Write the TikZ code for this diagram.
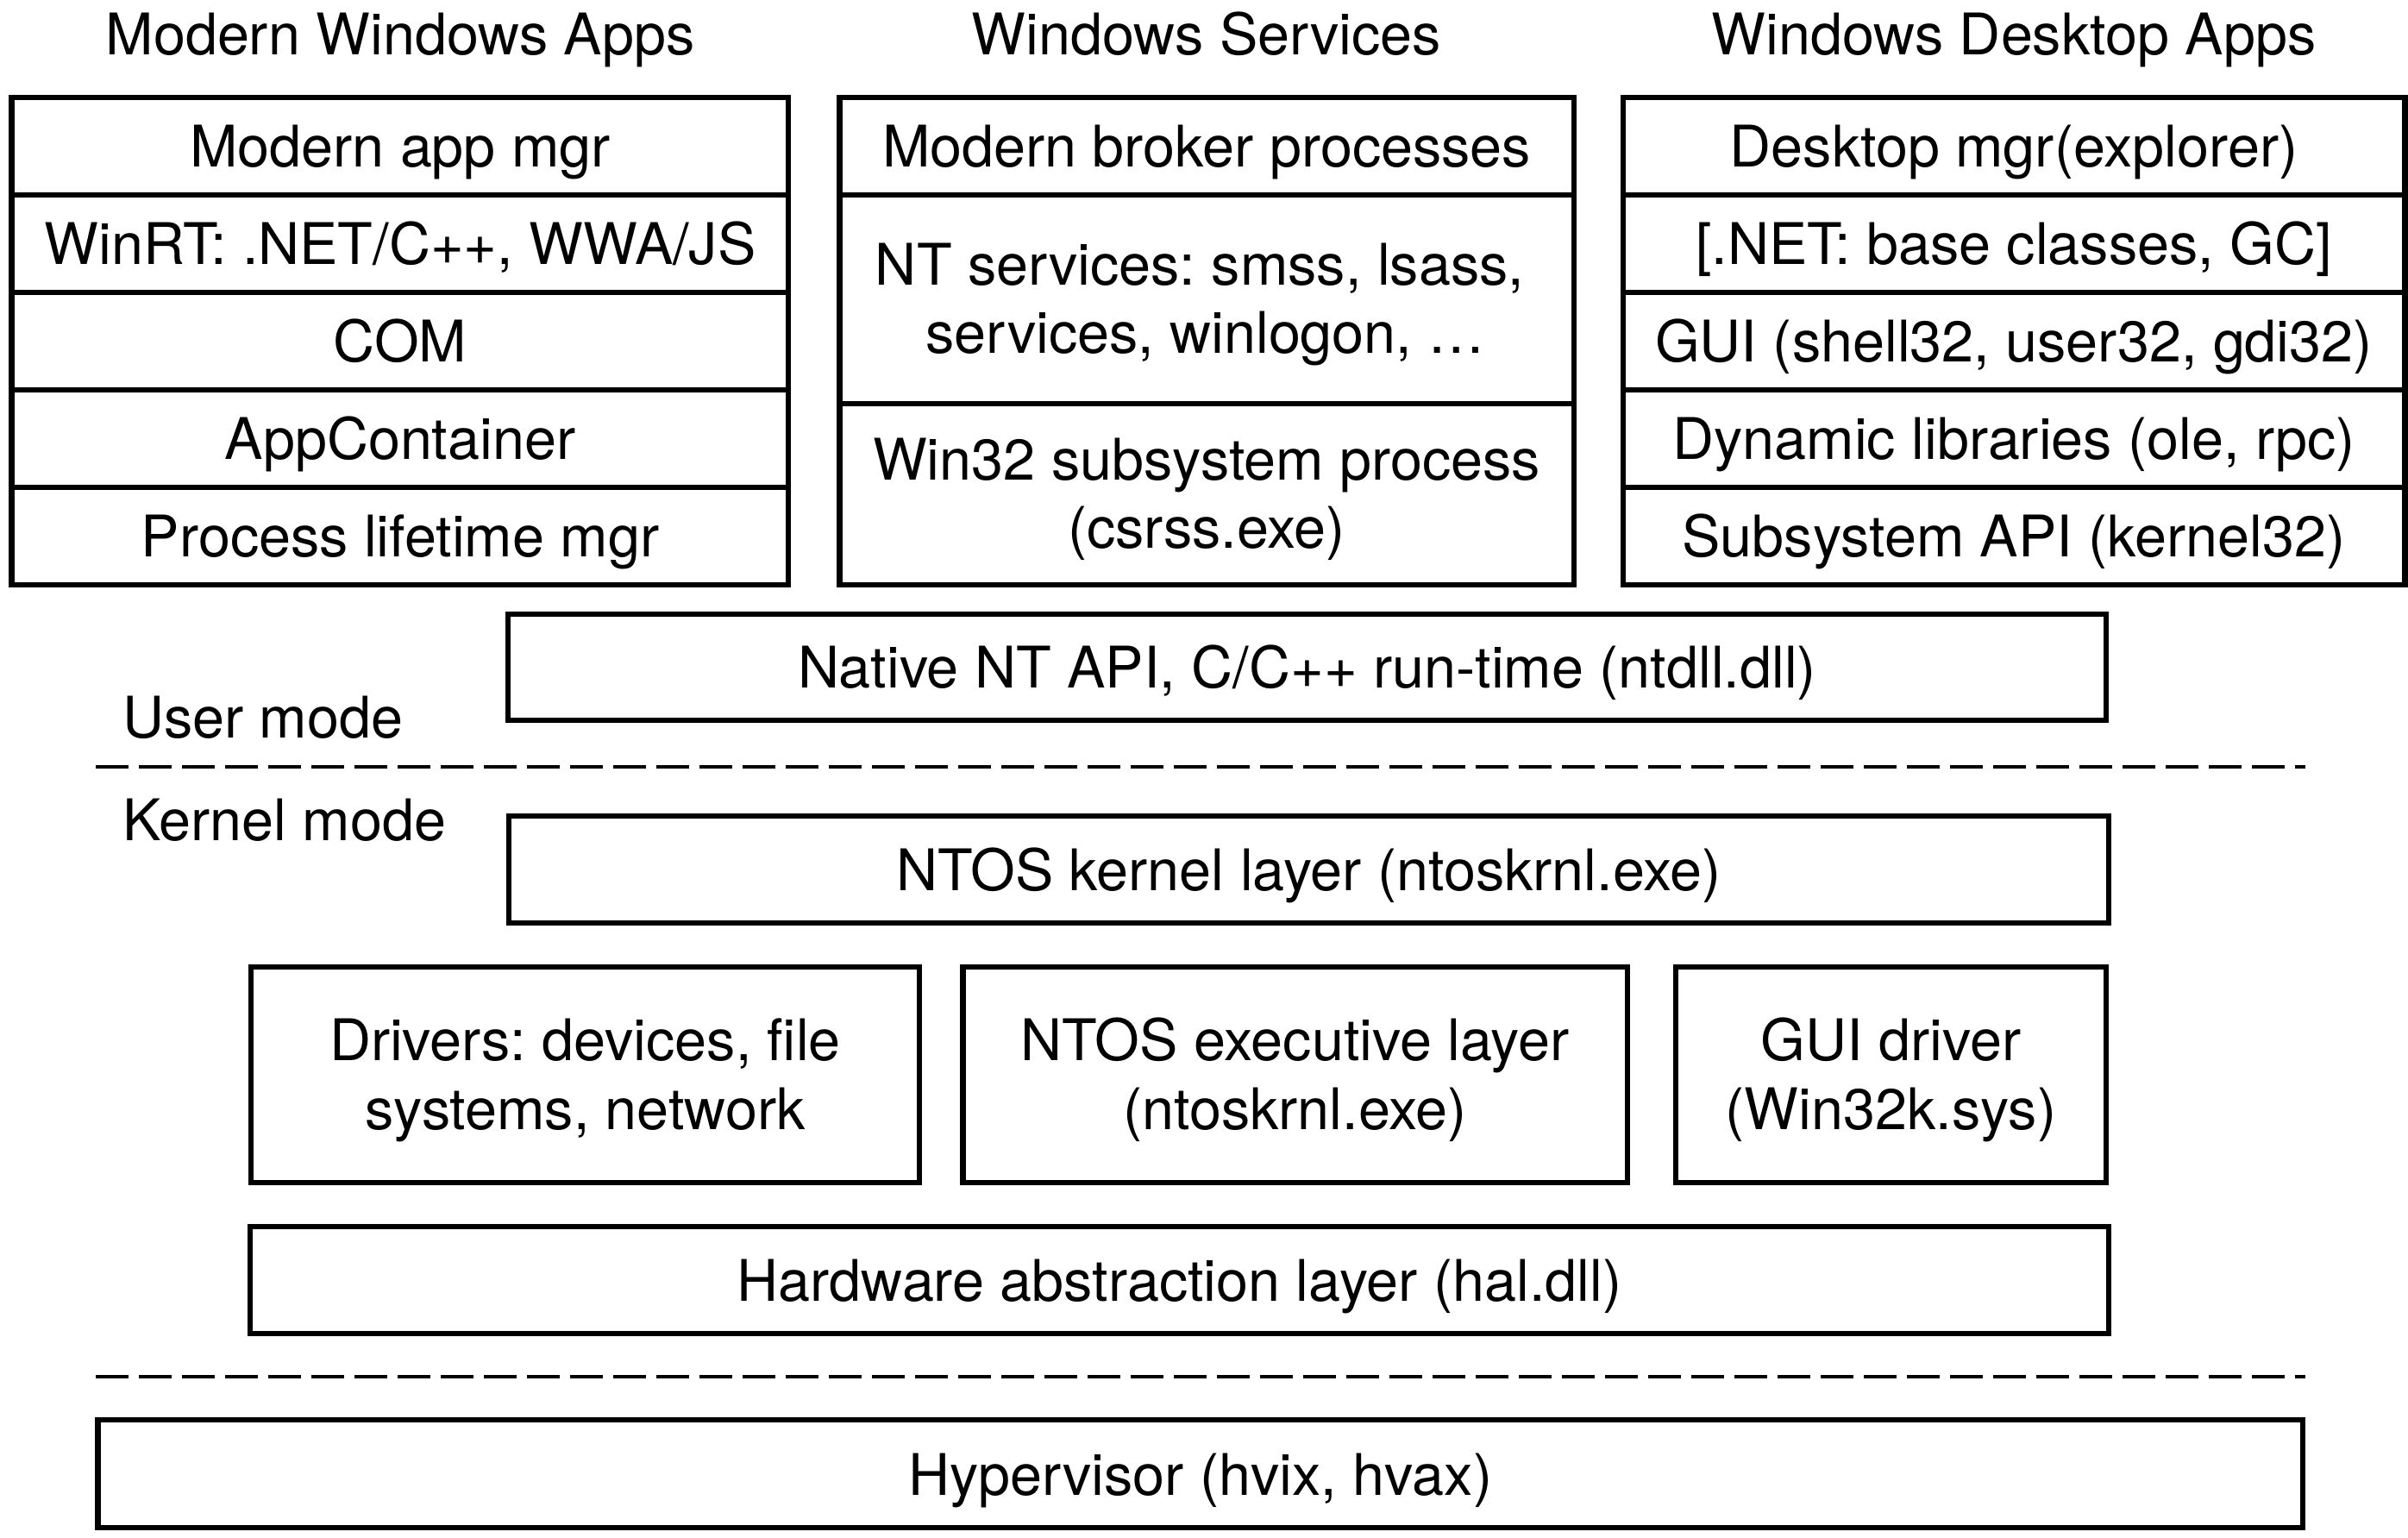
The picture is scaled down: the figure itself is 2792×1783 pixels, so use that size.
\documentclass[tikz,border=0pt]{standalone}
\usepackage{fontspec}
\setmainfont{TeX Gyre Heros}
\usetikzlibrary{fit}
\frenchspacing
\begin{document}
\frenchspacing
\begin{tikzpicture}[x=0.25pt,y=-0.25pt,
  txt/.style={font=\fontsize{16.625pt}{19.75pt}\selectfont\frenchspacing, inner sep=0pt, outer sep=0pt},
  box/.style={draw, line width=1.55pt, inner sep=0pt},
  ln/.style={txt, anchor=base},
  sepline/.style={line width=1.2pt, dash pattern=on 9.5pt off 3pt}]
\useasboundingbox (0,0) rectangle (2792,1783);

% headers
\node[ln] (h1) at (464,64) {Modern Windows Apps};
\node[ln] (h2) at (1399,64) {Windows Services};
\node[ln] (h3) at (2335,64) {Windows Desktop Apps};

% left stack
\node[box, fit={(13.5,113) (914,226)}] (l1) {};
\node[box, fit={(13.5,226) (914,339)}] (l2) {};
\node[box, fit={(13.5,339) (914,452)}] (l3) {};
\node[box, fit={(13.5,452) (914,565)}] (l4) {};
\node[box, fit={(13.5,565) (914,678)}] (l5) {};
\node[ln] (l1t) at (464,194) {Modern app mgr};
\node[ln] (l2t) at (464,307) {WinRT: .NET/C++, WWA/JS};
\node[ln] (l3t) at (464,420) {COM};
\node[ln] (l4t) at (464,533) {AppContainer};
\node[ln] (l5t) at (464,646) {Process lifetime mgr};

% middle stack
\node[box, fit={(973.5,113) (1825,226)}] (m1) {};
\node[ln] (m1t) at (1399,194) {Modern broker processes};
\node[box, fit={(973.5,226) (1825,468)}] (m2) {};
\node[ln] (m2a) at (1391,331) {NT services: smss, lsass,};
\node[ln] (m2b) at (1398,410) {services, winlogon, …};
\node[box, fit={(973.5,468) (1825,678)}] (m3) {};
\node[ln] (m3a) at (1399,556.5) {Win32 subsystem process};
\node[ln] (m3b) at (1399,635.5) {(csrss.exe)};

% right stack
\node[box, fit={(1882,113) (2788.5,226)}] (r1) {};
\node[box, fit={(1882,226) (2788.5,339)}] (r2) {};
\node[box, fit={(1882,339) (2788.5,452)}] (r3) {};
\node[box, fit={(1882,452) (2788.5,565)}] (r4) {};
\node[box, fit={(1882,565) (2788.5,678)}] (r5) {};
\node[ln] (r1t) at (2335,194) {Desktop mgr(explorer)};
\node[ln] (r2t) at (2335,307) {[.NET: base classes, GC]};
\node[ln] (r3t) at (2335,420) {GUI (shell32, user32, gdi32)};
\node[ln] (r4t) at (2335,533) {Dynamic libraries (ole, rpc)};
\node[ln] (r5t) at (2335,646) {Subsystem API (kernel32)};

% native API
\node[box, fit={(589,712) (2442,835)}] (ntapi) {};
\node[ln] (ntapit) at (1515.5,798) {Native NT API, C/C++ run-time (ntdll.dll)};

% mode labels and separator
\node[txt, anchor=base west] (um) at (142,856) {User mode};
\coordinate (d1a) at (111,889);
\coordinate (d1b) at (2673,889);
\draw[sepline] (d1a) -- (d1b);
\node[txt, anchor=base west] (km) at (142,975) {Kernel mode};

% kernel
\node[box, fit={(590,946) (2445,1070)}] (kern) {};
\node[ln] (kernt) at (1517.5,1032.5) {NTOS kernel layer (ntoskrnl.exe)};

\node[box, fit={(291,1121) (1066,1371)}] (drv) {};
\node[ln] (drva) at (678.5,1230) {Drivers: devices, file};
\node[ln] (drvb) at (678.5,1309) {systems, network};
\node[box, fit={(1116.5,1121) (1887,1371)}] (exec) {};
\node[ln] (execa) at (1501.5,1230) {NTOS executive layer};
\node[ln] (execb) at (1501.5,1309) {(ntoskrnl.exe)};
\node[box, fit={(1943,1121) (2442,1371)}] (gui) {};
\node[ln] (guia) at (2192.5,1230) {GUI driver};
\node[ln] (guib) at (2192.5,1309) {(Win32k.sys)};

\node[box, fit={(290,1422) (2445,1546)}] (hal) {};
\node[ln] (halt) at (1367.5,1508.5) {Hardware abstraction layer (hal.dll)};

\coordinate (d2a) at (111,1596);
\coordinate (d2b) at (2673,1596);
\draw[sepline] (d2a) -- (d2b);

\node[box, fit={(113.5,1646) (2670,1771)}] (hyp) {};
\node[ln] (hypt) at (1391.75,1733) {Hypervisor (hvix, hvax)};
\end{tikzpicture}
\end{document}
